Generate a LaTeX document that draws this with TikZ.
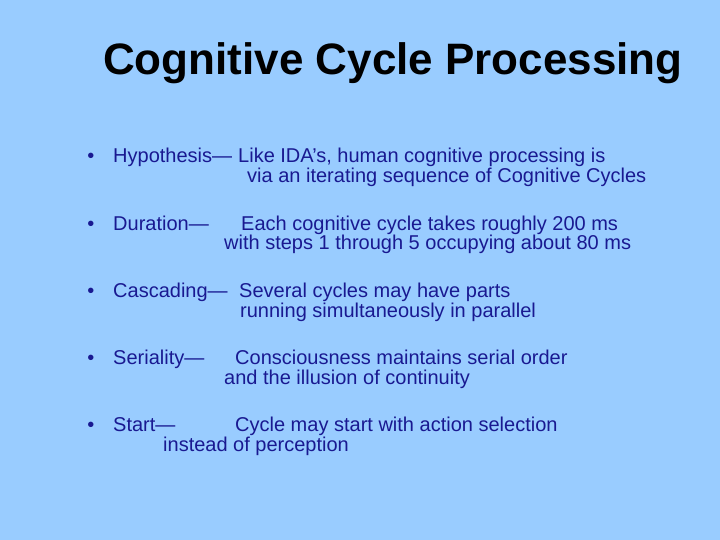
\documentclass[tikz,border=0pt]{standalone}
\usepackage{fontspec}
\setmainfont{Liberation Sans}
\definecolor{slidebg}{RGB}{153,204,255}
\definecolor{bodyblue}{RGB}{25,25,145}

\begin{document}
\begin{tikzpicture}[x=1pt,y=-1pt,
  title/.style={anchor=base west,inner sep=0pt,font=\fontsize{44}{52}\selectfont\bfseries,text=black},
  body/.style={anchor=base west,inner sep=0pt,font=\fontsize{20}{24}\selectfont,text=bodyblue},
  dot/.style={anchor=base,inner sep=0pt,font=\fontsize{20}{24}\selectfont,text=bodyblue}]
 \fill[slidebg] (0,0) rectangle (720,540);
 \useasboundingbox (0,0) rectangle (720,540);

 \node[title] (head) at (103,75) {Cognitive Cycle Processing};

 % hypothesis
 \node[dot] (b1) at (91,163) {•};
 \node[body] (hyp) at (113,163) {Hypothesis—};
 \node[body] (hypa) at (238,163) {Like IDA’s, human cognitive processing is};
 \node[body] (hypb) at (247,182.5) {via an iterating sequence of Cognitive Cycles};

 % duration
 \node[dot] (b2) at (91,230) {•};
 \node[body] (dur) at (113,230) {Duration—};
 \node[body] (dura) at (241,230) {Each cognitive cycle takes roughly 200 ms};
 \node[body] (durb) at (224,249.5) {with steps 1 through 5 occupying about 80 ms};

 % cascading
 \node[dot] (b3) at (91,297.5) {•};
 \node[body] (cas) at (113,297.5) {Cascading—};
 \node[body] (casa) at (239,297.5) {Several cycles may have parts};
 \node[body] (casb) at (240,317) {running simultaneously in parallel};

 % seriality
 \node[dot] (b4) at (91,364.5) {•};
 \node[body] (ser) at (113,364.5) {Seriality—};
 \node[body] (sera) at (235,364.5) {Consciousness maintains serial order};
 \node[body] (serb) at (224,384) {and the illusion of continuity};

 % start
 \node[dot] (b5) at (91,431.5) {•};
 \node[body] (sta) at (113,431.5) {Start—};
 \node[body] (staa) at (235,431.5) {Cycle may start with action selection};
 \node[body] (stab) at (163,451) {instead of perception};
\end{tikzpicture}
\end{document}
